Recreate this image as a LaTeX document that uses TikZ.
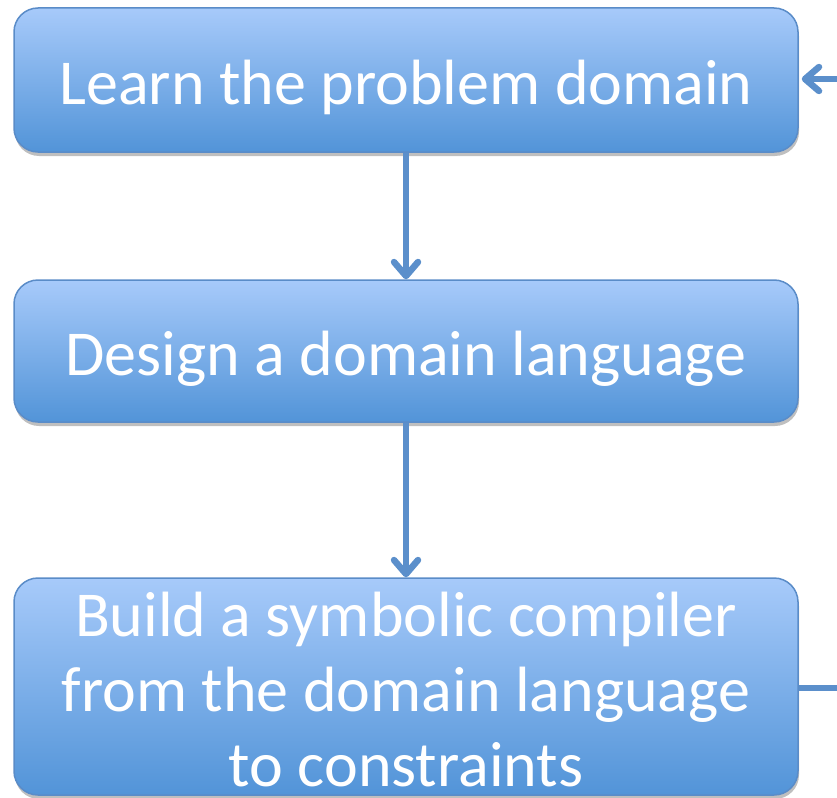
\documentclass[tikz,border=0pt]{standalone}
\usepackage{fontspec}
\setmainfont{Carlito}
\usetikzlibrary{arrows.meta,shadows}
\definecolor{boxtop}{HTML}{A7CAFA}
\definecolor{boxbot}{HTML}{5294D8}
\definecolor{boxline}{HTML}{5A8CC8}
\definecolor{arrowc}{HTML}{5B8FCB}
\tikzset{
  flowbox/.style={draw=boxline, line width=1.5pt, rounded corners=24pt,
    top color=boxtop, bottom color=boxbot, minimum width=784pt,
    inner sep=0pt,
    drop shadow={shadow xshift=1pt, shadow yshift=-4pt, opacity=0.25, fill=black}},
  boxtext/.style={text=white, anchor=base, inner sep=0pt,
    font=\fontsize{64}{75}\selectfont},
  flowarrow/.style={draw=arrowc, line width=6.5pt,
    -{Straight Barb[length=14pt,width=24pt,line cap=round,line join=round]}},
  flowline/.style={draw=arrowc, line width=6pt}
}
\begin{document}
\begin{tikzpicture}[x=1pt,y=1pt]
\useasboundingbox (0,0) rectangle (837,-797);
\node[flowbox, minimum height=144pt] (learn) at (406,-80) {};
\node[flowbox, minimum height=142pt] (design) at (406,-351) {};
\begin{scope}
\clip (0,0) rectangle (837,-797);
\node[flowbox, minimum height=217pt] (build) at (406,-686.5) {};
\node[boxtext] (t3c) at (406,-786) {to constraints};
\end{scope}
\node[boxtext] (t1) at (406,-105) {Learn the problem domain};
\node[boxtext] (t2) at (406,-375) {Design a domain language};
\node[boxtext] (t3a) at (406,-636) {Build a symbolic compiler};
\node[boxtext] (t3b) at (406,-711) {from the domain language};
\coordinate (inR) at (837,-79);
\coordinate (outR) at (837,-688);
\draw[flowarrow] (learn.south) -- (design.north);
\draw[flowarrow] (design.south) -- (build.north);
\draw[flowarrow, shorten >=3pt] (inR) -- (learn.east |- inR);
\draw[flowline] (build.east |- outR) -- (outR);
\end{tikzpicture}
\end{document}
